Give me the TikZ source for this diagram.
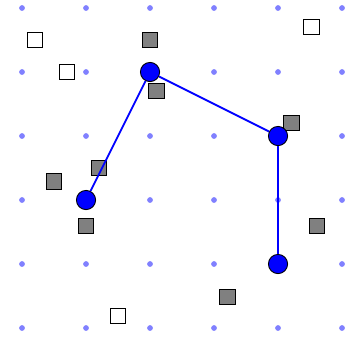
\documentclass[tikz,border=0pt]{standalone}
\begin{document}
\begin{tikzpicture}
  \useasboundingbox (-0.344,-0.266) rectangle (5.078,5.125);
  \tikzset{
    gridpt/.style={circle,fill=blue!50,inner sep=0pt,minimum size=0.09cm},
    vertex/.style={circle,draw=black,fill=blue,inner sep=0pt,minimum size=0.3cm},
    sqwhite/.style={draw=black,fill=white,inner sep=0pt,minimum size=0.24cm},
    sqgray/.style={draw=black,fill=gray,inner sep=0pt,minimum size=0.24cm}
  }

  \foreach \i in {0,...,5}
    \foreach \j in {0,...,5}
      \node [gridpt] (p\i\j) at (\i,\j) {};

  \node [sqwhite] (w1) at (0.2,4.5) {};
  \node [sqwhite] (w2) at (0.7,4) {};
  \node [sqwhite] (w3) at (4.52,4.7) {};
  \node [sqwhite] (w4) at (1.5,0.19) {};

  \node [sqgray] (g1) at (2,4.5) {};
  \node [sqgray] (g2) at (2.1,3.7) {};
  \node [sqgray] (g3) at (4.21,3.2) {};
  \node [sqgray] (g4) at (1.2,2.5) {};
  \node [sqgray] (g5) at (0.5,2.29) {};
  \node [sqgray] (g6) at (1,1.59) {};
  \node [sqgray] (g7) at (4.61,1.59) {};
  \node [sqgray] (g8) at (3.21,0.49) {};

  \node [vertex] (a) at (2,4) {};
  \node [vertex] (b) at (4,3) {};
  \node [vertex] (c) at (1,2) {};
  \node [vertex] (d) at (4,1) {};

  \draw [color=blue,line width=0.8pt] (c) -- (a) -- (b) -- (d);
\end{tikzpicture}
\end{document}
